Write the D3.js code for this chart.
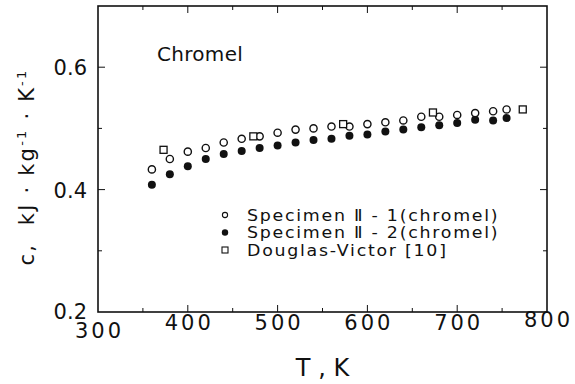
<!DOCTYPE html>
<html>
<head>
<meta charset="utf-8">
<script src="https://cdn.jsdelivr.net/npm/d3@7"></script>
<style>
  body { margin: 0; background: #fff; }
  text { font-family: "DejaVu Sans", sans-serif; fill: #111; }
</style>
</head>
<body>
<div id="chart"></div>
<script>
// values
const tempsSpec1 = [360, 380, 400, 420, 440, 460, 480, 500, 520, 540, 560, 580, 600, 620, 640, 660, 680, 700, 720, 740, 755]
const cSpec1 = [0.433, 0.450, 0.462, 0.468, 0.477, 0.483, 0.487, 0.493, 0.498, 0.500, 0.503, 0.503, 0.507, 0.510, 0.513, 0.519, 0.519, 0.522, 0.525, 0.528, 0.531]
const tempsSpec2 = [360, 380, 400, 420, 440, 460, 480, 500, 520, 540, 560, 580, 600, 620, 640, 660, 680, 700, 720, 740, 755]
const cSpec2 = [0.408, 0.425, 0.438, 0.450, 0.458, 0.463, 0.468, 0.472, 0.477, 0.481, 0.483, 0.488, 0.490, 0.495, 0.498, 0.502, 0.505, 0.509, 0.514, 0.513, 0.517]
const tempsDV = [373, 473, 573, 673, 773]
const cDV = [0.465, 0.487, 0.507, 0.526, 0.531]

const xTicks = [300, 400, 500, 600, 700, 800]
const yTicks = [0.2, 0.4, 0.6]
const legendLabels = ["Specimen \u2161 - 1(chromel)", "Specimen \u2161 - 2(chromel)", "Douglas-Victor [10]"]

const width = 575, height = 384
const margin = { top: 6, right: 28, bottom: 72, left: 98 }

const svg = d3.select('#chart').append('svg')
    .attr('width', width)
    .attr('height', height)

const x = d3.scaleLinear().domain([300, 800]).range([margin.left, width - margin.right])
const y = d3.scaleLinear().domain([0.2, 0.7]).range([height - margin.bottom, margin.top])

const x0 = x(300), x1 = x(800), y0 = y(0.2), y1 = margin.top

// frame
svg.append('rect')
    .attr('x', x0).attr('y', y1)
    .attr('width', x1 - x0).attr('height', y0 - y1)
    .attr('fill', 'none').attr('stroke', '#111').attr('stroke-width', 1.6)

// inward ticks on all four sides
const g = svg.append('g').attr('stroke', '#111').attr('stroke-width', 1)
d3.range(350, 800, 50).forEach(t => {
    const len = t % 100 === 0 ? 7 : 4
    g.append('line').attr('x1', x(t)).attr('x2', x(t)).attr('y1', y0).attr('y2', y0 - len)
    g.append('line').attr('x1', x(t)).attr('x2', x(t)).attr('y1', y1).attr('y2', y1 + len)
})
;[0.3, 0.4, 0.5, 0.6].forEach(v => {
    const len = Math.round(v * 10) % 2 === 0 ? 7 : 4
    g.append('line').attr('x1', x0).attr('x2', x0 + len).attr('y1', y(v)).attr('y2', y(v))
    g.append('line').attr('x1', x1).attr('x2', x1 - len).attr('y1', y(v)).attr('y2', y(v))
})

// tick labels (300 sits a little lower, 800 a little higher, as in the scan)
svg.append('g').selectAll('text')
    .data(xTicks)
    .join('text')
    .attr('x', d => x(d) + 1.5)
    .attr('y', d => y0 + (d === 300 ? 26 : d === 800 ? 15 : 18))
    .attr('text-anchor', 'middle')
    .attr('font-size', 21)
    .attr('letter-spacing', 3)
    .text(d => d)

svg.append('g').selectAll('text')
    .data(yTicks)
    .join('text')
    .attr('x', x0 - 11)
    .attr('y', d => d === 0.2 ? y0 + 7 : y(d) + 8)
    .attr('text-anchor', 'end')
    .attr('font-size', 21)
    .text(d => d3.format('.1f')(d))

// axis titles
svg.append('text')
    .attr('x', x(550))
    .attr('y', 376)
    .attr('text-anchor', 'middle')
    .attr('font-size', 24)
    .attr('xml:space', 'preserve')
    .text('T , K')

const yl = svg.append('text')
    .attr('transform', `translate(34,${(y0 + y1) / 2 + 8}) rotate(-90)`)
    .attr('text-anchor', 'middle')
    .attr('font-size', 21)
    .attr('letter-spacing', 2.2)
    .attr('xml:space', 'preserve')
yl.append('tspan').text('c,  kJ \u00b7 kg')
yl.append('tspan').attr('dy', -8).attr('font-size', 13).text('-1')
yl.append('tspan').attr('dy', 8).text(' \u00b7 K')
yl.append('tspan').attr('dy', -8).attr('font-size', 13).text('-1')

svg.append('text')
    .attr('x', 157)
    .attr('y', 61)
    .attr('font-size', 20)
    .attr('letter-spacing', 0.3)
    .text('Chromel')

// data marks
const pts = (ts, cs) => ts.map((t, i) => ({ t, c: cs[i] }))

svg.append('g').selectAll('circle')
    .data(pts(tempsSpec2, cSpec2))
    .join('circle')
    .attr('cx', d => x(d.t)).attr('cy', d => y(d.c))
    .attr('r', 4).attr('fill', '#111')

svg.append('g').selectAll('circle')
    .data(pts(tempsSpec1, cSpec1))
    .join('circle')
    .attr('cx', d => x(d.t)).attr('cy', d => y(d.c))
    .attr('r', 3.6).attr('fill', '#fff').attr('stroke', '#111').attr('stroke-width', 1.4)

svg.append('g').selectAll('rect')
    .data(pts(tempsDV, cDV))
    .join('rect')
    .attr('x', d => x(d.t) - 3.5).attr('y', d => y(d.c) - 3.5)
    .attr('width', 7).attr('height', 7)
    .attr('fill', '#fff').attr('stroke', '#111').attr('stroke-width', 1.3)

// legend
const lg = svg.append('g')
const ly = [215, 232.5, 250]
lg.append('circle').attr('cx', 225).attr('cy', ly[0]).attr('r', 2.6)
    .attr('fill', '#fff').attr('stroke', '#111').attr('stroke-width', 1.1)
lg.append('circle').attr('cx', 225).attr('cy', ly[1]).attr('r', 3.2).attr('fill', '#111')
lg.append('rect').attr('x', 222).attr('y', ly[2] - 3).attr('width', 6).attr('height', 6)
    .attr('fill', '#fff').attr('stroke', '#111').attr('stroke-width', 1.1)
lg.selectAll('text')
    .data(legendLabels)
    .join('text')
    .attr('transform', (d, i) => `translate(247,${ly[i] + 5.5}) scale(1.16,1)`)
    .attr('font-size', 15)
    .attr('letter-spacing', 1.5)
    .attr('xml:space', 'preserve')
    .text(d => d)
</script>
</body>
</html>
